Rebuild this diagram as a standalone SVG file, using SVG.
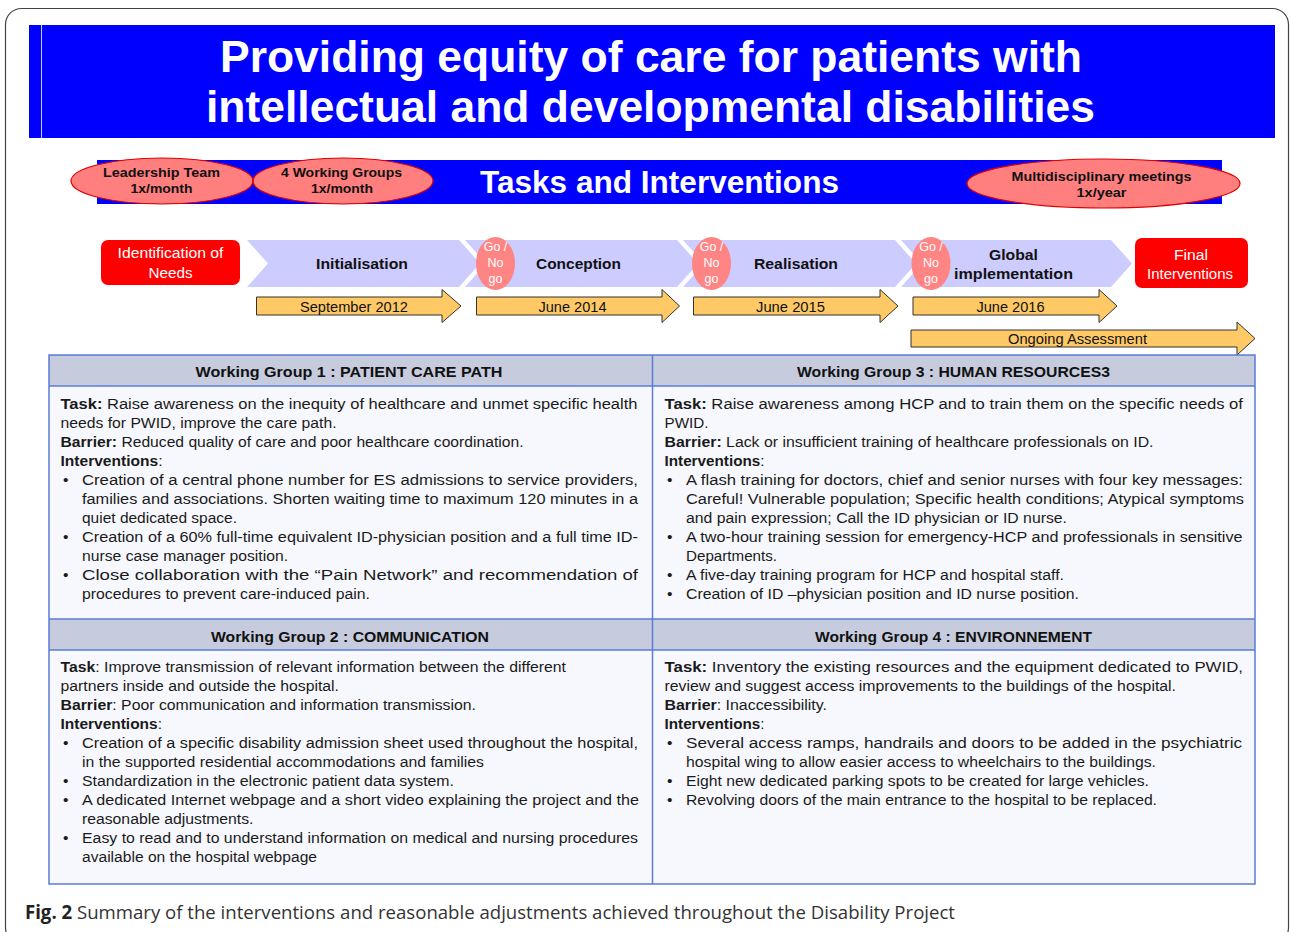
<svg xmlns="http://www.w3.org/2000/svg" width="1290" height="932" viewBox="0 0 1290 932">
<style>
.ttl{font-family:"Liberation Sans",Arial,sans-serif;font-weight:bold;fill:#fff}
.ell{fill:#FF7F7F;stroke:#E00000;stroke-width:1.2}
.elt{font-family:"Liberation Sans",Arial,sans-serif;font-weight:bold;font-size:13.5px;fill:#111;text-anchor:middle}
.chev{fill:#CCCCFF}
.red{fill:#FF0000}
.wt{font-family:"Liberation Sans",Arial,sans-serif;font-size:15.5px;fill:#fff;text-anchor:middle}
.ph{font-family:"Liberation Sans",Arial,sans-serif;font-weight:bold;font-size:15.5px;fill:#111;text-anchor:middle}
.go{fill:#FF8585}
.gt{font-family:"Liberation Sans",Arial,sans-serif;font-size:12.5px;fill:#fff;text-anchor:middle}
.ya{fill:#FFC966;stroke:#333;stroke-width:1}
.yt{font-family:"Liberation Sans",Arial,sans-serif;font-size:14px;fill:#111;text-anchor:middle}
.tb{font-family:"Liberation Sans Narrow","Liberation Sans",Arial,sans-serif;font-size:15.5px;fill:#1a1a1a}
.hd{font-family:"Liberation Sans Narrow","Liberation Sans",Arial,sans-serif;font-size:15.5px;font-weight:bold;fill:#111;text-anchor:middle}
.b{font-weight:bold}
.hdr{fill:#C6CCDD}
.ln{stroke:#5B7BD5;stroke-width:1.5;fill:none}
</style>
<rect x="0" y="0" width="1290" height="932" fill="#fff"/>
<rect x="5.5" y="8.5" width="1283" height="935" rx="16" fill="none" stroke="#444" stroke-width="1.2"/>

<g id="title">
<rect x="29" y="25" width="1246" height="113" fill="#0000FF"/>
<line x1="41.5" y1="25" x2="41.5" y2="138" stroke="#C8C8FF" stroke-width="1"/>
<text class="ttl" x="220" y="72" font-size="45" textLength="862" lengthAdjust="spacingAndGlyphs">Providing equity of care for patients with</text>
<text class="ttl" x="206" y="122" font-size="45" textLength="889" lengthAdjust="spacingAndGlyphs">intellectual and developmental disabilities</text>
</g>

<g id="tasks-banner">
<rect x="97" y="160" width="1125" height="44" fill="#0000FF"/>
<text class="ttl" x="480" y="193" font-size="31.5" textLength="359" lengthAdjust="spacingAndGlyphs">Tasks and Interventions</text>
</g>
<g id="leadership">
<ellipse class="ell" cx="162" cy="181" rx="91" ry="23"/>
<text class="elt" x="161.5" y="177" textLength="117" lengthAdjust="spacingAndGlyphs">Leadership Team</text>
<text class="elt" x="161.5" y="193" textLength="62" lengthAdjust="spacingAndGlyphs">1x/month</text>
</g>
<g id="working-groups">
<ellipse class="ell" cx="343" cy="181" rx="90" ry="23"/>
<text class="elt" x="341.5" y="177" textLength="121" lengthAdjust="spacingAndGlyphs">4 Working Groups</text>
<text class="elt" x="342" y="193" textLength="62" lengthAdjust="spacingAndGlyphs">1x/month</text>
</g>
<g id="multidisciplinary">
<ellipse class="ell" cx="1103.5" cy="183.5" rx="136.5" ry="24.5"/>
<text class="elt" x="1101.5" y="180.5" textLength="180" lengthAdjust="spacingAndGlyphs">Multidisciplinary  meetings</text>
<text class="elt" x="1101.5" y="196.5" textLength="50" lengthAdjust="spacingAndGlyphs">1x/year</text>
</g>

<g id="identification">
<rect class="red" x="101" y="240" width="139" height="45" rx="7"/>
<text class="wt" x="170.5" y="258" textLength="106" lengthAdjust="spacingAndGlyphs">Identification  of</text>
<text class="wt" x="170.5" y="278" textLength="44" lengthAdjust="spacingAndGlyphs">Needs</text>
</g>
<g id="initialisation">
<polygon class="chev" points="247,240 459,240 480,263.5 459,287 247,287 268,263.5"/>
<text class="ph" x="362" y="269" textLength="92" lengthAdjust="spacingAndGlyphs">Initialisation</text>
</g>
<g id="conception">
<polygon class="chev" points="465,240 677,240 698,263.5 677,287 465,287 486,263.5"/>
<text class="ph" x="578.5" y="269" textLength="85" lengthAdjust="spacingAndGlyphs">Conception</text>
</g>
<g id="realisation">
<polygon class="chev" points="683,240 895,240 916,263.5 895,287 683,287 704,263.5"/>
<text class="ph" x="796" y="269" textLength="84" lengthAdjust="spacingAndGlyphs">Realisation</text>
</g>
<g id="global">
<polygon class="chev" points="901,240 1111,240 1132,263.5 1111,287 901,287 922,263.5"/>
<text class="ph" x="1013.5" y="260" textLength="49" lengthAdjust="spacingAndGlyphs">Global</text>
<text class="ph" x="1013.5" y="279" textLength="119" lengthAdjust="spacingAndGlyphs">implementation</text>
</g>
<g id="final">
<rect class="red" x="1135" y="238" width="113" height="50" rx="7"/>
<text class="wt" x="1191" y="260" textLength="34" lengthAdjust="spacingAndGlyphs">Final</text>
<text class="wt" x="1190" y="279" textLength="86" lengthAdjust="spacingAndGlyphs">Interventions</text>
</g>
<g id="gonogo-1">
<ellipse class="go" cx="495.5" cy="263.5" rx="19.5" ry="26.5"/>
<text class="gt" x="495.5" y="251">Go /</text>
<text class="gt" x="495.5" y="267">No</text>
<text class="gt" x="495.5" y="283">go</text>
</g>
<g id="gonogo-2">
<ellipse class="go" cx="711.5" cy="263.5" rx="19.5" ry="26.5"/>
<text class="gt" x="711.5" y="251">Go /</text>
<text class="gt" x="711.5" y="267">No</text>
<text class="gt" x="711.5" y="283">go</text>
</g>
<g id="gonogo-3">
<ellipse class="go" cx="931" cy="263.5" rx="19.5" ry="26.5"/>
<text class="gt" x="931" y="251">Go /</text>
<text class="gt" x="931" y="267">No</text>
<text class="gt" x="931" y="283">go</text>
</g>

<g id="connectors">
<polygon class="ya" points="256.5,297 442,297 442,289.5 461,306 442,322.5 442,315 256.5,315"/>
<polygon class="ya" points="476.5,297 662,297 662,289.5 679.5,306 662,322.5 662,315 476.5,315"/>
<polygon class="ya" points="693.5,297 880,297 880,289.5 898,306 880,322.5 880,315 693.5,315"/>
<polygon class="ya" points="913,297 1099,297 1099,289.5 1117,306 1099,322.5 1099,315 913,315"/>
<polygon class="ya" points="911,330 1237,330 1237,322 1255,338.5 1237,355 1237,347 911,347"/>
<text class="yt" x="354" y="311.5" textLength="108" lengthAdjust="spacingAndGlyphs">September 2012</text>
<text class="yt" x="572.5" y="311.5" textLength="68" lengthAdjust="spacingAndGlyphs">June 2014</text>
<text class="yt" x="790.5" y="311.5" textLength="69" lengthAdjust="spacingAndGlyphs">June 2015</text>
<text class="yt" x="1010.5" y="311.5" textLength="68" lengthAdjust="spacingAndGlyphs">June 2016</text>
<text class="yt" x="1077.5" y="343.5" textLength="139" lengthAdjust="spacingAndGlyphs">Ongoing Assessment</text>
</g>

<g id="table">
<rect x="49" y="355" width="1206" height="529" fill="#F7F8FD"/>
<rect class="hdr" x="49" y="355" width="1206" height="31"/>
<rect class="hdr" x="49" y="619" width="1206" height="31"/>
<rect class="ln" x="49" y="355" width="1206" height="529"/>
<line class="ln" x1="49" y1="386" x2="1255" y2="386"/>
<line class="ln" x1="49" y1="619" x2="1255" y2="619"/>
<line class="ln" x1="49" y1="650" x2="1255" y2="650"/>
<line class="ln" x1="652.5" y1="355" x2="652.5" y2="884"/>
</g>

<g id="wg1">
<text class="hd" x="349" y="377" textLength="307" lengthAdjust="spacingAndGlyphs">Working Group 1 : PATIENT CARE  PATH</text>
<text class="tb" x="60.5" y="409" textLength="577" lengthAdjust="spacingAndGlyphs"><tspan class="b">Task:</tspan> Raise awareness on the inequity of healthcare and unmet specific health</text>
<text class="tb" x="60.5" y="428" textLength="276" lengthAdjust="spacingAndGlyphs">needs for PWID, improve the care path.</text>
<text class="tb" x="60.5" y="447" textLength="463" lengthAdjust="spacingAndGlyphs"><tspan class="b">Barrier:</tspan> Reduced quality of care and poor healthcare coordination.</text>
<text class="tb" x="60.5" y="466" textLength="102" lengthAdjust="spacingAndGlyphs"><tspan class="b">Interventions</tspan>:</text>
<text class="tb" x="63" y="485">•</text>
<text class="tb" x="82" y="485" textLength="556" lengthAdjust="spacingAndGlyphs">Creation of a central phone number for ES admissions to service providers,</text>
<text class="tb" x="82" y="504" textLength="556" lengthAdjust="spacingAndGlyphs">families and associations. Shorten waiting time to maximum 120 minutes in a</text>
<text class="tb" x="82" y="523" textLength="155" lengthAdjust="spacingAndGlyphs">quiet dedicated space.</text>
<text class="tb" x="63" y="542">•</text>
<text class="tb" x="82" y="542" textLength="556" lengthAdjust="spacingAndGlyphs">Creation of a 60% full-time equivalent ID-physician position and a full time ID-</text>
<text class="tb" x="82" y="561" textLength="206" lengthAdjust="spacingAndGlyphs">nurse case manager position.</text>
<text class="tb" x="63" y="580">•</text>
<text class="tb" x="82" y="580" textLength="556" lengthAdjust="spacingAndGlyphs">Close collaboration with the “Pain Network” and recommendation of</text>
<text class="tb" x="82" y="599" textLength="288" lengthAdjust="spacingAndGlyphs">procedures to prevent care-induced pain.</text>
</g>

<g id="wg3">
<text class="hd" x="953.5" y="377" textLength="313" lengthAdjust="spacingAndGlyphs">Working Group 3 : HUMAN RESOURCES3</text>
<text class="tb" x="664.5" y="409" textLength="578.5" lengthAdjust="spacingAndGlyphs"><tspan class="b">Task:</tspan> Raise awareness among HCP and to train them on the specific needs of</text>
<text class="tb" x="664.5" y="428" textLength="44" lengthAdjust="spacingAndGlyphs">PWID.</text>
<text class="tb" x="664.5" y="447" textLength="489" lengthAdjust="spacingAndGlyphs"><tspan class="b">Barrier:</tspan> Lack or insufficient training of healthcare professionals on ID.</text>
<text class="tb" x="664.5" y="466" textLength="100" lengthAdjust="spacingAndGlyphs"><tspan class="b">Interventions</tspan>:</text>
<text class="tb" x="667" y="485">•</text>
<text class="tb" x="686" y="485" textLength="557" lengthAdjust="spacingAndGlyphs">A flash training for doctors, chief and senior nurses with four key messages:</text>
<text class="tb" x="686" y="504" textLength="558" lengthAdjust="spacingAndGlyphs">Careful! Vulnerable population; Specific health conditions; Atypical symptoms</text>
<text class="tb" x="686" y="523" textLength="381" lengthAdjust="spacingAndGlyphs">and pain expression; Call the ID physician or ID nurse.</text>
<text class="tb" x="667" y="542">•</text>
<text class="tb" x="686" y="542" textLength="556.5" lengthAdjust="spacingAndGlyphs">A two-hour training session for emergency-HCP and professionals in sensitive</text>
<text class="tb" x="686" y="561" textLength="91" lengthAdjust="spacingAndGlyphs">Departments.</text>
<text class="tb" x="667" y="580">•</text>
<text class="tb" x="686" y="580" textLength="378" lengthAdjust="spacingAndGlyphs">A five-day  training program for HCP and hospital staff.</text>
<text class="tb" x="667" y="599">•</text>
<text class="tb" x="686" y="599" textLength="393" lengthAdjust="spacingAndGlyphs">Creation of ID –physician position and ID nurse position.</text>
</g>

<g id="wg2">
<text class="hd" x="350" y="642" textLength="278" lengthAdjust="spacingAndGlyphs">Working Group 2 : COMMUNICATION</text>
<text class="tb" x="60.5" y="672" textLength="505.5" lengthAdjust="spacingAndGlyphs"><tspan class="b">Task</tspan>: Improve  transmission of relevant  information  between  the different</text>
<text class="tb" x="60.5" y="691" textLength="278.5" lengthAdjust="spacingAndGlyphs">partners inside and outside the hospital.</text>
<text class="tb" x="60.5" y="710" textLength="415.5" lengthAdjust="spacingAndGlyphs"><tspan class="b">Barrier</tspan>: Poor communication and information  transmission.</text>
<text class="tb" x="60.5" y="729" textLength="101.5" lengthAdjust="spacingAndGlyphs"><tspan class="b">Interventions</tspan>:</text>
<text class="tb" x="63" y="748">•</text>
<text class="tb" x="82" y="748" textLength="556" lengthAdjust="spacingAndGlyphs">Creation of a specific disability admission sheet used throughout the hospital,</text>
<text class="tb" x="82" y="767" textLength="402" lengthAdjust="spacingAndGlyphs">in the supported residential  accommodations and families</text>
<text class="tb" x="63" y="786">•</text>
<text class="tb" x="82" y="786" textLength="372" lengthAdjust="spacingAndGlyphs">Standardization  in the electronic patient data system.</text>
<text class="tb" x="63" y="805">•</text>
<text class="tb" x="82" y="805" textLength="557" lengthAdjust="spacingAndGlyphs">A dedicated Internet webpage and a short video explaining the project and the</text>
<text class="tb" x="82" y="824" textLength="171.5" lengthAdjust="spacingAndGlyphs">reasonable  adjustments.</text>
<text class="tb" x="63" y="843">•</text>
<text class="tb" x="82" y="843" textLength="556" lengthAdjust="spacingAndGlyphs">Easy to read and to understand information on medical and nursing procedures</text>
<text class="tb" x="82" y="862" textLength="235" lengthAdjust="spacingAndGlyphs">available  on the hospital webpage</text>
</g>

<g id="wg4">
<text class="hd" x="953.5" y="642" textLength="277" lengthAdjust="spacingAndGlyphs">Working Group 4 : ENVIRONNEMENT</text>
<text class="tb" x="664.5" y="672" textLength="578.5" lengthAdjust="spacingAndGlyphs"><tspan class="b">Task:</tspan> Inventory the existing resources and the equipment dedicated to PWID,</text>
<text class="tb" x="664.5" y="691" textLength="511.5" lengthAdjust="spacingAndGlyphs">review  and suggest access improvements  to the buildings of the hospital.</text>
<text class="tb" x="664.5" y="710" textLength="162.5" lengthAdjust="spacingAndGlyphs"><tspan class="b">Barrier</tspan>: Inaccessibility.</text>
<text class="tb" x="664.5" y="729" textLength="100" lengthAdjust="spacingAndGlyphs"><tspan class="b">Interventions</tspan>:</text>
<text class="tb" x="667" y="748">•</text>
<text class="tb" x="686" y="748" textLength="556" lengthAdjust="spacingAndGlyphs">Several access ramps, handrails and doors to be added in the psychiatric</text>
<text class="tb" x="686" y="767" textLength="470" lengthAdjust="spacingAndGlyphs">hospital wing to allow easier access to wheelchairs  to the buildings.</text>
<text class="tb" x="667" y="786">•</text>
<text class="tb" x="686" y="786" textLength="463" lengthAdjust="spacingAndGlyphs">Eight new dedicated parking spots to be created for large vehicles.</text>
<text class="tb" x="667" y="805">•</text>
<text class="tb" x="686" y="805" textLength="471" lengthAdjust="spacingAndGlyphs">Revolving  doors of the main entrance to the hospital to be replaced.</text>
</g>

<g id="caption">
<text x="25" y="919" font-family="'Open Sans','Liberation Sans',sans-serif" font-size="19" fill="#333" textLength="930" lengthAdjust="spacingAndGlyphs"><tspan font-weight="bold" fill="#222">Fig. 2</tspan> Summary of the interventions and reasonable adjustments achieved throughout the Disability Project</text>
</g>
</svg>
